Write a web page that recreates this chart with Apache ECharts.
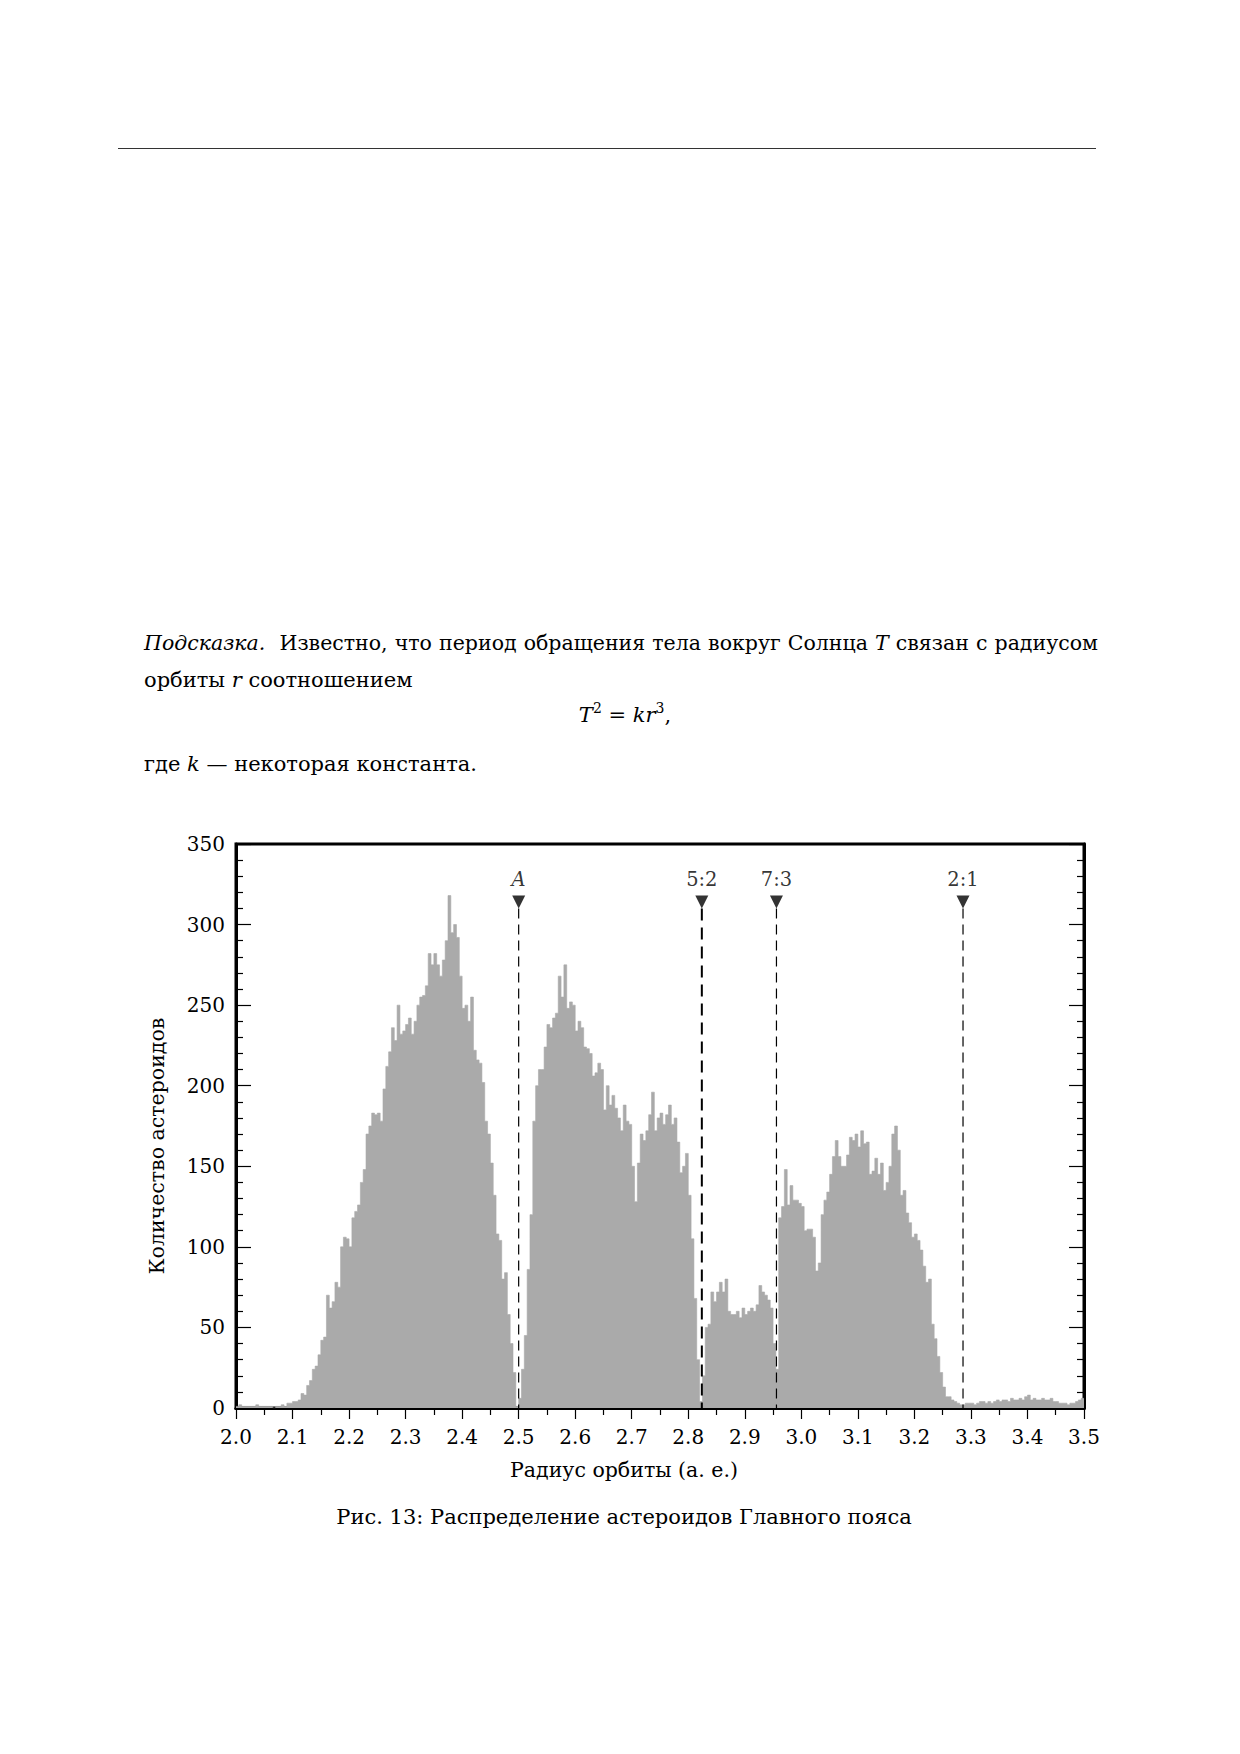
<!DOCTYPE html>
<html>
<head>
<meta charset="utf-8">
<title>Распределение астероидов Главного пояса</title>
<script src="https://cdn.jsdelivr.net/npm/echarts@6/dist/echarts.min.js"></script>
<style>
body { margin: 0; background: #fff; }
#page { position: relative; width: 1240px; height: 1754px; font-family: "DejaVu Serif", serif; color: #000; overflow: hidden; }
#chart { position: absolute; left: 0; top: 0; width: 1240px; height: 1754px; }
.rule { position: absolute; left: 118px; top: 148px; width: 978px; border-top: 1.5px solid #333; }
.line { position: absolute; left: 144px; font-size: 21px; line-height: 24px; }
.justify { width: 954px; font-size: 20.5px; text-align: justify; text-align-last: justify; }
.formula { position: absolute; left: 520px; width: 210px; text-align: center; font-size: 21px; line-height: 24px; }
sup { font-size: 14px; line-height: 0; vertical-align: 9px; }
</style>
</head>
<body>
<div id="page">
    <div id="chart"></div>
    <div class="rule"></div>
    <div class="line justify" style="top:631px"><i>Подсказка.</i>&nbsp; Известно, что период обращения тела вокруг Солнца <i>T</i> связан с радиусом</div>
    <div class="line" style="top:668px">орбиты <i>r</i> соотношением</div>
    <div class="formula" style="top:703px"><i>T</i><sup>2</sup> = <i>kr</i><sup>3</sup>,</div>
    <div class="line" style="top:752px">где <i>k</i> — некоторая константа.</div>
</div>

<script>
// гистограмма: шаг 0.005 а.е., начало 2.0 а.е.
const binStart = 2.0;
const binWidth = 0.005;

// 2.000 – 2.375
const counts1 = [1, 2, 1, 1, 1, 1, 1, 2, 1, 1, 1, 1, 1, 0, 1, 1, 2, 1,
    3, 3, 4, 4, 5, 9, 8,
    14, 17, 24, 26, 33, 42, 44, 70, 62, 66, 78, 75, 100, 106, 105, 100, 118, 122, 126, 140,
    148, 170, 175, 183, 182, 183, 178, 198, 212, 221, 236, 228, 250, 232, 234, 238, 242, 232, 240, 250,
    255, 256, 262, 282, 275, 282, 275, 268, 278, 290];
// 2.375 – 2.750
const counts2 = [318, 295, 300, 292, 268, 248, 250, 240, 255, 222,
    216, 214, 202, 178, 170, 152, 132, 108, 104, 80,
    84, 58, 40, 22, 1, 6, 24, 45, 86, 120,
    178, 200, 210, 210, 224, 238, 236, 242, 245, 268,
    255, 275, 248, 252, 250, 234, 240, 236, 224, 223,
    220, 206, 208, 214, 210, 185, 200, 188, 194, 186,
    180, 172, 188, 178, 176, 150, 128, 152, 170, 166,
    172, 182, 196, 172, 180];
// 2.750 – 3.125
const counts3 = [183, 176, 182, 188, 176, 180, 165, 146, 150, 158,
    132, 105, 68, 30, 4, 20, 50, 52, 72, 66,
    72, 78, 72, 80, 60, 58, 58, 60, 56, 62,
    58, 60, 62, 60, 64, 76, 72, 70, 67, 62,
    40, 24, 118, 125, 148, 126, 138, 129, 129, 127,
    125, 110, 111, 111, 106, 85, 90, 120, 129, 134,
    145, 156, 166, 156, 150, 150, 157, 168, 166, 170,
    162, 172, 164, 165, 145];
// 3.125 – 3.500
const counts4 = [147, 155, 145, 152, 135, 140, 150, 170, 175, 160,
    132, 135, 121, 115, 106, 108, 104, 98, 88, 78,
    80, 52, 43, 32, 22, 13, 7, 7, 5, 4,
    3, 2, 2, 3, 3, 3, 2, 3, 4, 4,
    3, 4, 3, 4, 5, 4, 5, 5, 4, 6,
    5, 5, 6, 5, 7, 8, 5, 6, 5, 5,
    6, 5, 5, 6, 4, 4, 3, 3, 3, 2,
    3, 3, 4, 5, 6];

const xTickLabels = ['2.0', '2.1', '2.2', '2.3', '2.4', '2.5', '2.6', '2.7', '2.8', '2.9', '3.0', '3.1', '3.2', '3.3', '3.4', '3.5'];
const yTickLabels = ['0', '50', '100', '150', '200', '250', '300', '350'];

// резонансы
const resonanceNames = ['A', '5:2', '7:3', '2:1'];
const resonanceRadius = [2.500, 2.824, 2.956, 3.286];

const FONT = '"DejaVu Serif", serif';
const markerLevel = 314;
const dashTop = 310;

const counts = [].concat(counts1, counts2, counts3, counts4);
const histData = counts.map((c, i) => [+(binStart + i * binWidth).toFixed(4), c]);
histData.push([binStart + counts.length * binWidth, counts[counts.length - 1]]);

const xMin = +xTickLabels[0], xMax = +xTickLabels[xTickLabels.length - 1];
const yMax = +yTickLabels[yTickLabels.length - 1];

const chart = echarts.init(document.getElementById('chart'), null, { renderer: 'svg' });

const dashSeries = resonanceRadius.map((r, i) => ({
    type: 'line',
    xAxisIndex: 0,
    yAxisIndex: 0,
    data: [[r, dashTop], [r, 0]],
    symbol: 'none',
    silent: true,
    z: 5,
    lineStyle: i === 1
        ? { color: '#000', width: 2, type: [12, 7] }
        : { color: '#000', width: 1.2, type: [10, 6] }
}));

chart.setOption({
    animation: false,
    grid: {
        left: 236, top: 844, width: 848, height: 564,
        show: true, borderColor: '#000', borderWidth: 3, backgroundColor: 'transparent'
    },
    xAxis: [{
        type: 'value', min: xMin, max: xMax, interval: 0.1, position: 'bottom',
        axisLine: { show: true, lineStyle: { color: '#000', width: 3 } },
        axisTick: { show: true, inside: false, length: 11, lineStyle: { color: '#000', width: 1.2 } },
        minorTick: { show: true, splitNumber: 2, length: 7, lineStyle: { color: '#000', width: 1.2 } },
        splitLine: { show: false },
        axisLabel: {
            margin: 19, fontFamily: FONT, fontSize: 20, color: '#000',
            formatter: v => xTickLabels[Math.round((v - xMin) * 10)] || ''
        }
    }, {
        type: 'value', min: xMin, max: xMax, position: 'top',
        axisLine: { show: true, lineStyle: { color: '#000', width: 3 } },
        axisTick: { show: false }, axisLabel: { show: false }, splitLine: { show: false }
    }],
    yAxis: [{
        type: 'value', min: 0, max: yMax, interval: 50, position: 'left',
        axisLine: { show: true, lineStyle: { color: '#000', width: 3 } },
        axisTick: { show: true, inside: true, length: 15, lineStyle: { color: '#000', width: 1.2 } },
        minorTick: { show: true, splitNumber: 5, length: 7, lineStyle: { color: '#000', width: 1.2 } },
        splitLine: { show: false },
        axisLabel: {
            margin: 11, fontFamily: FONT, fontSize: 20, color: '#000',
            formatter: v => yTickLabels[Math.round(v / 50)] || ''
        }
    }, {
        type: 'value', min: 0, max: yMax, interval: 50, position: 'right',
        axisLine: { show: true, lineStyle: { color: '#000', width: 3 } },
        axisTick: { show: true, inside: true, length: 15, lineStyle: { color: '#000', width: 1.2 } },
        minorTick: { show: true, splitNumber: 5, length: 7, lineStyle: { color: '#000', width: 1.2 } },
        splitLine: { show: false },
        axisLabel: { show: false }
    }],
    series: [{
        name: 'Количество астероидов',
        type: 'line',
        step: 'end',
        data: histData,
        symbol: 'none',
        sampling: null,
        silent: true,
        z: 2,
        lineStyle: { width: 0.6, color: '#aaaaaa' },
        areaStyle: { color: '#aaaaaa', opacity: 1 }
    }, {
        type: 'scatter',
        data: resonanceRadius.map((r, i) => ({
            name: resonanceNames[i],
            value: [r, markerLevel],
            label: i === 0 ? { fontStyle: 'italic' } : {}
        })),
        symbol: 'path://M0,0 L2,0 L1,2 Z',
        symbolSize: [13, 13],
        itemStyle: { color: '#000' },
        z: 6,
        label: {
            show: true, position: 'top', distance: 6, formatter: '{b}',
            fontFamily: FONT, fontSize: 19.5, color: '#000'
        }
    }].concat(dashSeries),
    graphic: [{
        type: 'text', x: 157, y: 1146, rotation: Math.PI / 2,
        style: {
            text: 'Количество астероидов', fill: '#000',
            font: '20.5px "DejaVu Serif", serif', align: 'center', verticalAlign: 'middle'
        }
    }, {
        type: 'text', x: 624, y: 1470,
        style: {
            text: 'Радиус орбиты (а. е.)', fill: '#000',
            font: '20.5px "DejaVu Serif", serif', align: 'center', verticalAlign: 'middle'
        }
    }, {
        type: 'text', x: 624, y: 1517,
        style: {
            text: 'Рис. 13: Распределение астероидов Главного пояса', fill: '#000',
            font: '21px "DejaVu Serif", serif', align: 'center', verticalAlign: 'middle'
        }
    }]
});
</script>
</body>
</html>
